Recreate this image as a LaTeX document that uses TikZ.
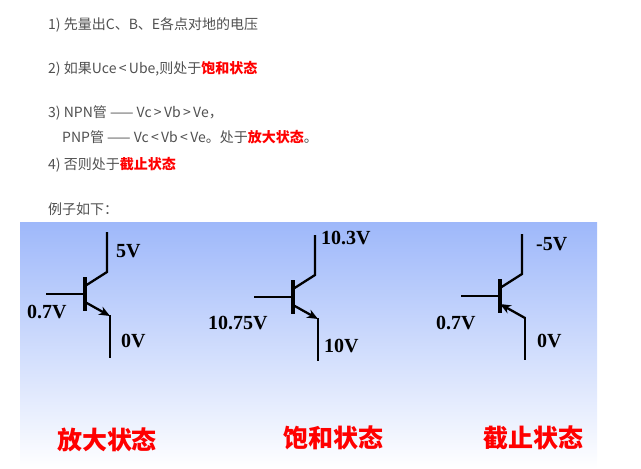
\documentclass[tikz,border=0pt]{standalone}
\usepackage{fontspec}
\setmainfont{Liberation Serif}
\newfontfamily\cjk{Noto Sans CJK SC}
\usetikzlibrary{arrows.meta,calc}
\definecolor{txtgray}{RGB}{80,80,80}
\definecolor{paneltop}{RGB}{158,184,250}
\tikzset{
  volt/.style={font=\bfseries\fontsize{20pt}{20pt}\selectfont,anchor=west,inner sep=0pt},
  state/.style={text=red,font=\cjk\bfseries\fontsize{25pt}{25pt}\selectfont,inner sep=0pt},
  line/.style={font=\cjk\fontsize{14pt}{16pt}\selectfont,text=txtgray,anchor=west,inner sep=0pt},
  wire/.style={line width=2.3pt},
}
\newcommand\hot[1]{\textcolor{red}{\bfseries #1}}
\newcommand\bjt[4]{% name, x, y, arrow out/in
\coordinate (#1) at (#2,#3);
\draw[line width=4pt] ($(#1)+(0,-17)$) -- ($(#1)+(0,17)$);
\draw[wire] ($(#1)+(-39,0)$) -- (#1);
\draw[wire] ($(#1)+(0,-8)$) -- ($(#1)+(22,-22)$) -- ($(#1)+(22,-62)$);
\ifx#4o
\draw[wire,-{Stealth[length=11pt,width=9pt]}] ($(#1)+(0,8)$) -- ($(#1)+(25,22)$);
\else
\draw[wire,{Stealth[length=11pt,width=9pt]}-] ($(#1)+(0,8)$) -- ($(#1)+(25,22)$);
\fi
\draw[wire] ($(#1)+(25,21)$) -- ($(#1)+(25,64)$);}
\begin{document}
\begin{tikzpicture}[x=1pt,y=-1pt]
\useasboundingbox (0,0) rectangle (641,469);
\shade[top color=paneltop,bottom color=white] (20,222) rectangle (597,469);

\node[line] (l1) at (48,25) {1) 先量出C、B、E各点对地的电压};
\node[line] (l2) at (48,69) {2) 如果Uce\,<\,Ube,则处于\hot{饱和状态}};
\node[line] (l3) at (48,113) {3) NPN管 —— Vc\,>\,Vb\,>\,Ve，};
\node[line] (l4) at (62,137) {PNP管 —— Vc\,<\,Vb\,<\,Ve。处于\hot{放大状态}。};
\node[line] (l5) at (48,165) {4) 否则处于\hot{截止状态}};
\node[line] (l6) at (48,209) {例子如下：};

\bjt{q1}{85}{294}{o}
\bjt{q2}{293}{297}{o}
\bjt{q3}{500}{296}{i}

\node[volt] (v1c) at (116,251) {5V};
\node[volt] (v1b) at (27,312) {0.7V};
\node[volt] (v1e) at (121,341) {0V};
\node[volt] (v2c) at (321,238) {10.3V};
\node[volt] (v2b) at (208,323) {10.75V};
\node[volt] (v2e) at (324,346) {10V};
\node[volt] (v3c) at (536,244) {-5V};
\node[volt] (v3b) at (436,323) {0.7V};
\node[volt] (v3e) at (537,341) {0V};

\node[state] (s1) at (107,440) {放大状态};
\node[state] (s2) at (333,438) {饱和状态};
\node[state] (s3) at (533,438) {截止状态};
\end{tikzpicture}
\end{document}
